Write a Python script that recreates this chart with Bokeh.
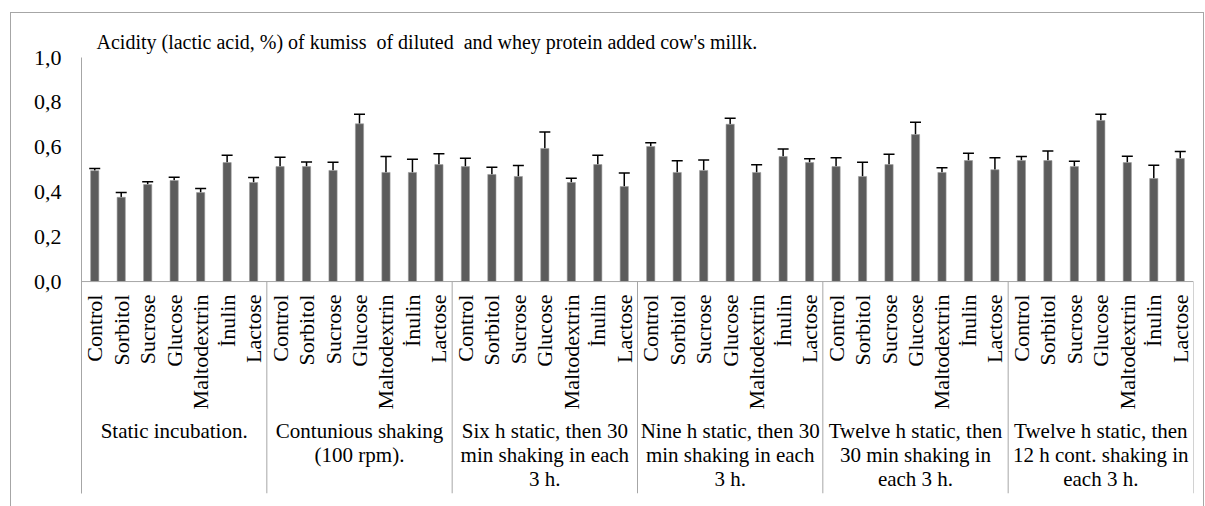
import math
from bokeh.plotting import figure
from bokeh.models import (FactorRange, Range1d, ColumnDataSource, Whisker, TeeHead,
                          Span, FixedTicker, CustomJSTickFormatter)
from bokeh.core.properties import value
from bokeh.embed import file_html
from bokeh.resources import INLINE

# ---------------- data ----------------
title_text = "Acidity (lactic acid, %) of kumiss \u00a0of diluted \u00a0and whey protein added cow's millk."

categories = ["Control", "Sorbitol", "Sucrose", "Glucose", "Maltodextrin", "İnulin", "Lactose"]

groups = [
    "Static incubation.",
    "Contunious shaking\n(100 rpm).",
    "Six h static, then 30\nmin shaking in each\n3 h.",
    "Nine h static, then 30\nmin shaking in each\n3 h.",
    "Twelve h static, then\n30 min shaking in\neach 3 h.",
    "Twelve h static, then\n12 h cont. shaking in\neach 3 h.",
]

static_vals = [0.495, 0.376, 0.433, 0.451, 0.397, 0.531, 0.442]
static_errs = [0.010, 0.022, 0.012, 0.015, 0.018, 0.033, 0.022]

shaking_vals = [0.513, 0.513, 0.496, 0.704, 0.487, 0.487, 0.522]
shaking_errs = [0.042, 0.021, 0.037, 0.043, 0.071, 0.059, 0.048]

six_h_vals = [0.513, 0.478, 0.469, 0.594, 0.442, 0.522, 0.424]
six_h_errs = [0.037, 0.032, 0.049, 0.073, 0.019, 0.042, 0.061]

nine_h_vals = [0.603, 0.487, 0.496, 0.702, 0.487, 0.558, 0.531]
nine_h_errs = [0.016, 0.052, 0.046, 0.027, 0.034, 0.034, 0.017]

twelve_h_30_vals = [0.513, 0.469, 0.522, 0.656, 0.487, 0.540, 0.499]
twelve_h_30_errs = [0.039, 0.064, 0.046, 0.055, 0.021, 0.033, 0.053]

twelve_h_12_vals = [0.540, 0.540, 0.513, 0.719, 0.531, 0.460, 0.549]
twelve_h_12_errs = [0.018, 0.043, 0.024, 0.028, 0.028, 0.059, 0.031]

y_ticks = [0.0, 0.2, 0.4, 0.6, 0.8, 1.0]

# ---------------- build ----------------
all_vals = [static_vals, shaking_vals, six_h_vals, nine_h_vals, twelve_h_30_vals, twelve_h_12_vals]
all_errs = [static_errs, shaking_errs, six_h_errs, nine_h_errs, twelve_h_30_errs, twelve_h_12_errs]

factors = [(g, c) for g in groups for c in categories]
vals = [v for vs in all_vals for v in vs]
errs = [e for es in all_errs for e in es]

src = ColumnDataSource(dict(
    x=factors,
    top=vals,
    lower=vals,
    upper=[v + e for v, e in zip(vals, errs)],
    cat=[c for g in groups for c in categories],
))

FONT = "Liberation Serif"
AXIS_GRAY = "#a6a6a6"
Y_BOTTOM = -0.946

p = figure(
    width=1205, height=506,
    x_range=FactorRange(*factors, factor_padding=0, group_padding=0, subgroup_padding=0, range_padding=0),
    y_range=Range1d(Y_BOTTOM, 1.0),
    output_backend="svg", toolbar_location=None,
    min_border_left=81, min_border_right=12, min_border_top=57, min_border_bottom=13,
)
p.background_fill_color = "white"
p.border_fill_color = None
p.outline_line_color = None
p.xgrid.visible = False
p.ygrid.visible = False
p.xaxis.visible = False

# outer chart border (drawn as the page element background behind the transparent canvas border)
p.styles = {
    "background-color": "white",
    "background-image": ("linear-gradient(#a6a6a6, #a6a6a6), "
                         "linear-gradient(#a6a6a6, #a6a6a6), "
                         "linear-gradient(#a6a6a6, #a6a6a6)"),
    "background-position": "10px 12px, 10px 12px, 1203px 12px",
    "background-size": "1194px 1px, 1px 600px, 1px 600px",
    "background-repeat": "no-repeat",
}

# title
p.title.text = title_text
p.title.text_font = FONT
p.title.text_font_size = "20px"
p.title.text_font_style = "normal"
p.title.text_color = "black"
p.title.align = "left"
p.title.offset = 15
p.title.standoff = 10

# y axis
ya = p.yaxis[0]
ya.ticker = FixedTicker(ticks=y_ticks)
ya.formatter = CustomJSTickFormatter(code="return tick.toFixed(1).replace('.', ',');")
ya.major_label_text_font = FONT
ya.major_label_text_font_size = "22px"
ya.major_label_text_color = "black"
ya.major_label_standoff = 20
ya.major_tick_out = 0
ya.major_tick_in = 0
ya.minor_tick_out = 0
ya.minor_tick_in = 0
ya.axis_line_color = AXIS_GRAY
ya.axis_line_width = 1

# bars
p.vbar(x="x", top="top", bottom=0, width=0.31, source=src,
       fill_color="#5c5c5c", line_color="#9a9a9a", line_width=0.6)

# error bars (upper only)
wh = Whisker(source=src, base="x", lower="lower", upper="upper",
             line_color="black", line_width=1.5,
             upper_head=TeeHead(size=11, line_color="black", line_width=1.5),
             lower_head=None)
p.add_layout(wh)

# category axis baseline
p.add_layout(Span(location=0, dimension="width", line_color=AXIS_GRAY, line_width=1))

# group separators
sep_x = [(g, categories[-1], 0.5) for g in groups]
p.segment(x0=sep_x, y0=[0] * len(sep_x), x1=sep_x, y1=[Y_BOTTOM] * len(sep_x),
          line_color=AXIS_GRAY, line_width=1)

# category labels (rotated)
p.text(x="x", y=-0.058, text="cat", source=src, angle=math.pi / 2,
       text_align="right", text_baseline="middle",
       text_font=value(FONT), text_font_size="22px", text_color="black")

# group labels
p.text(x=[(g, categories[3]) for g in groups], y=[-0.615] * len(groups), text=groups,
       text_align="center", text_baseline="top", text_line_height=1.0,
       text_font=value(FONT), text_font_size="21px", text_color="black")

open("out.html", "w").write(file_html(p, INLINE))
